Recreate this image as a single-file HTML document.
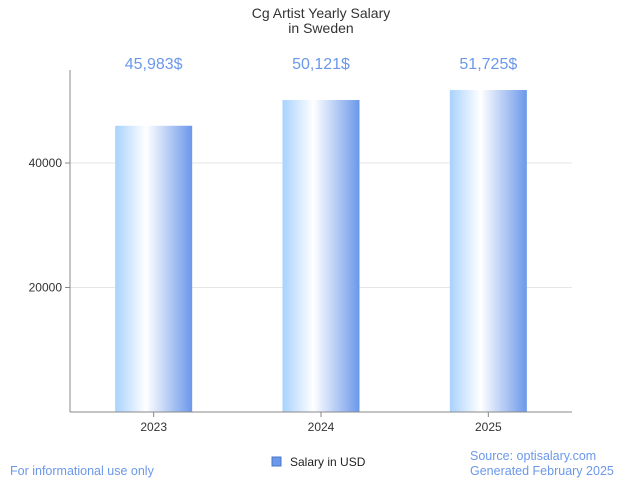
<!DOCTYPE html>
<html><head><meta charset="utf-8"><style>
body{margin:0;background:#fff;font-family:"Liberation Sans",sans-serif;}
svg text{font-family:"Liberation Sans",sans-serif;}
</style></head><body>
<svg width="642" height="482" viewBox="0 0 642 482">
<defs>
<linearGradient id="bg" x1="0" x2="1" y1="0" y2="0">
<stop offset="0" stop-color="#a8d2ff"/>
<stop offset="0.4" stop-color="#ffffff"/>
<stop offset="1" stop-color="#6b98ea"/>
</linearGradient>
</defs>
<text x="321" y="18" text-anchor="middle" font-size="14" fill="#333">Cg Artist Yearly Salary</text>
<text x="321" y="33" text-anchor="middle" font-size="14" fill="#333">in Sweden</text>
<g id="grid"></g>
<g id="bars"></g>
<line x1="70" y1="70" x2="70" y2="412" stroke="#888"/>
<line x1="70" y1="412" x2="572" y2="412" stroke="#888"/>
<rect x="272" y="457" width="9" height="9" fill="#6b98ea" stroke="#4a78c8"/>
<text x="290" y="466" font-size="12" fill="#222">Salary in USD</text>
<text x="10" y="475" font-size="12.5" fill="#6b98ea">For informational use only</text>
<text x="470" y="460" font-size="12.5" fill="#6b98ea">Source: optisalary.com</text>
<text x="470" y="475" font-size="12.5" fill="#6b98ea">Generated February 2025</text>
</svg>
<script>
const categories=["2023","2024","2025"];
const values=[45983,50121,51725];
const valueLabels=["45,983$","50,121$","51,725$"];
const yTicks=[20000,40000];
const yTickLabels=["20000","40000"];
const NS="http://www.w3.org/2000/svg";
const x0=70,x1=572,yBase=412,pxPer=124.5/20000;
const y=v=>yBase-v*pxPer;
const band=(x1-x0)/categories.length;
const xc=i=>x0+band*(i+0.5);
const grid=document.getElementById('grid'),bars=document.getElementById('bars');
function mk(tag,attrs,parent){const e=document.createElementNS(NS,tag);for(const k in attrs)e.setAttribute(k,attrs[k]);parent.appendChild(e);return e;}
yTicks.forEach((t,i)=>{
 const l=mk('line',{x1:x0,x2:x1,y1:y(t),y2:y(t),stroke:'#e6e6e6'},grid);
 
 
 const tk=mk('line',{x1:x0-5,x2:x0,y1:y(t),y2:y(t),stroke:'#888'},grid);
 
 
 const tx=mk('text',{x:x0-8,y:y(t)+4,'text-anchor':'end','font-size':12,fill:'#333'},grid);
 tx.textContent=yTickLabels[i];
 
 
});
categories.forEach((c,i)=>{
 const w=77;
 const r=mk('rect',{x:xc(i)-w/2,y:y(values[i]),width:w,height:yBase-y(values[i]),fill:'url(#bg)'},bars);
 
 
 const vl=mk('text',{x:xc(i),y:69,'text-anchor':'middle','font-size':16,fill:'#6b98ea'},bars);
 vl.textContent=valueLabels[i];
 
 
 const tk=mk('line',{x1:xc(i),x2:xc(i),y1:yBase,y2:yBase+5,stroke:'#888'},bars);
 
 
 const xl=mk('text',{x:xc(i),y:431,'text-anchor':'middle','font-size':12,fill:'#333'},bars);
 xl.textContent=c;
 
 
});
</script>
</body></html>
